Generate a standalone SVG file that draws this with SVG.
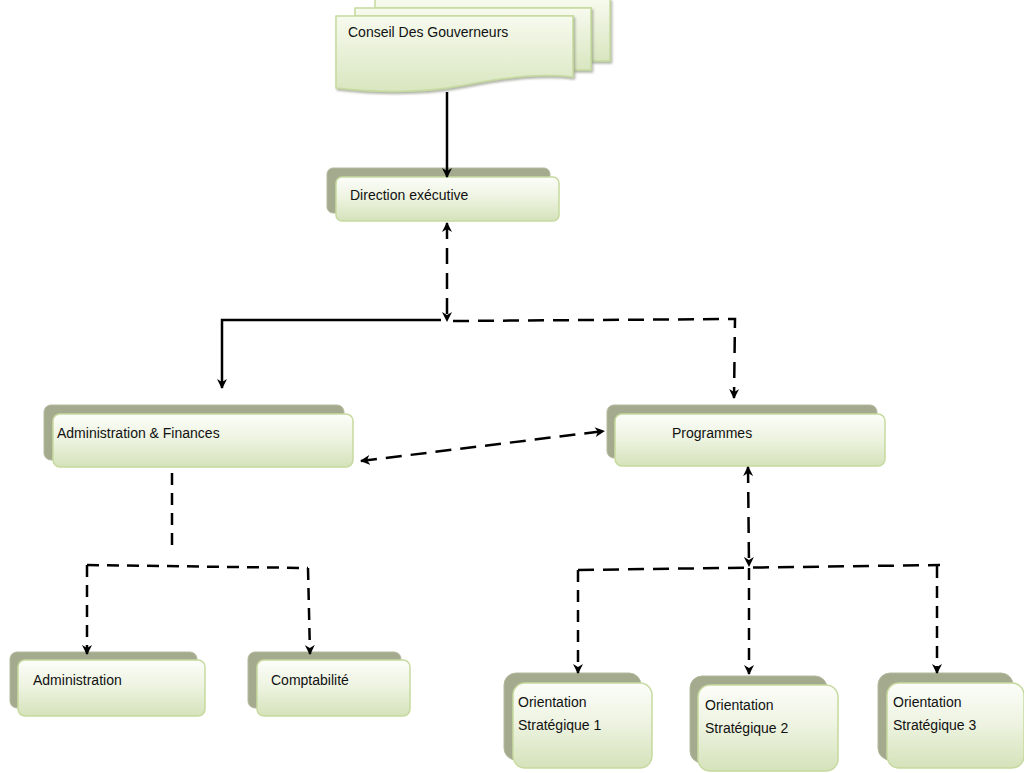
<svg xmlns="http://www.w3.org/2000/svg" width="1024" height="773" viewBox="0 0 1024 773">
<defs>
  <linearGradient id="gf" x1="0" y1="0" x2="0" y2="1">
    <stop offset="0" stop-color="#fcfdf9"/>
    <stop offset="0.45" stop-color="#eef4e2"/>
    <stop offset="1" stop-color="#d5e2ba"/>
  </linearGradient>
  <linearGradient id="gd" x1="0" y1="0" x2="0" y2="1">
    <stop offset="0" stop-color="#f7faee"/>
    <stop offset="1" stop-color="#d9e6c0"/>
  </linearGradient>
  <filter id="sh" x="-5%" y="-5%" width="115%" height="125%">
    <feDropShadow dx="1.5" dy="2" stdDeviation="1.2" flood-color="#7f8570" flood-opacity="0.6"/>
  </filter>
  <marker id="ah" viewBox="0 0 10 10" refX="9" refY="5" markerWidth="4" markerHeight="4" orient="auto-start-reverse" markerUnits="strokeWidth">
    <path d="M0,0 L10,5 L0,10 L3,5 z" fill="#000"/>
  </marker>
</defs>
<style>
  .back{fill:#a4aa8d;stroke:#b4b99f;stroke-width:1}
  .front{fill:url(#gf);stroke:#c6da9f;stroke-width:1.5}
  .doc{fill:url(#gd);stroke:#c6da9f;stroke-width:1.5}
  .lbl{font-family:"Liberation Sans",Arial,sans-serif;font-size:14px;fill:#111}
  .solid{fill:none;stroke:#000;stroke-width:2.5}
  .dash{fill:none;stroke:#000;stroke-width:2.5;stroke-dasharray:16,9}
  .dash2{fill:none;stroke:#000;stroke-width:2.5;stroke-dasharray:12,8}
</style>

<g id="conseil">
  <path class="doc" filter="url(#sh)" d="M375,-1 H610 V61 H591 V8 H375 Z"/>
  <path class="doc" filter="url(#sh)" d="M355,8 H591 V70 H573 V16 H355 Z"/>
  <path class="doc" filter="url(#sh)" d="M336,16 H573 V77 C540,73 500,78 465,85 C425,93 380,93 336,88 Z"/>
  <text class="lbl" x="348" y="37">Conseil Des Gouverneurs</text>
</g>

<g id="direction">
  <rect class="back" x="327" y="168" width="223" height="45" rx="6"/>
  <rect class="front" x="336" y="177" width="223" height="44" rx="6"/>
  <text class="lbl" x="350" y="200">Direction exécutive</text>
</g>

<g id="adminfin">
  <rect class="back" x="44" y="405" width="300" height="55" rx="7"/>
  <rect class="front" x="53" y="414" width="300" height="53" rx="7"/>
  <text class="lbl" x="57" y="438">Administration &amp; Finances</text>
</g>

<g id="programmes">
  <rect class="back" x="607" y="405" width="270" height="53" rx="7"/>
  <rect class="front" x="615" y="414" width="270" height="52" rx="7"/>
  <text class="lbl" x="672" y="438">Programmes</text>
</g>

<g id="administration">
  <rect class="back" x="10" y="652" width="187" height="56" rx="7"/>
  <rect class="front" x="18" y="660" width="187" height="56" rx="7"/>
  <text class="lbl" x="33" y="685">Administration</text>
</g>

<g id="comptabilite">
  <rect class="back" x="248" y="652" width="153" height="56" rx="7"/>
  <rect class="front" x="257" y="660" width="153" height="56" rx="7"/>
  <text class="lbl" x="271" y="685">Comptabilité</text>
</g>

<g id="os1">
  <rect class="back" x="504" y="673" width="137" height="87" rx="12"/>
  <rect class="front" x="513" y="683" width="139" height="85" rx="12"/>
  <text class="lbl" x="518" y="707">Orientation</text>
  <text class="lbl" x="518" y="730">Stratégique 1</text>
</g>

<g id="os2">
  <rect class="back" x="690" y="676" width="137" height="87" rx="12"/>
  <rect class="front" x="698" y="685" width="140" height="86" rx="12"/>
  <text class="lbl" x="705" y="710">Orientation</text>
  <text class="lbl" x="705" y="733">Stratégique 2</text>
</g>

<g id="os3">
  <rect class="back" x="878" y="673" width="135" height="87" rx="12"/>
  <rect class="front" x="887" y="683" width="137" height="85" rx="12"/>
  <text class="lbl" x="893" y="707">Orientation</text>
  <text class="lbl" x="893" y="730">Stratégique 3</text>
</g>

<g id="connectors">
  <path class="solid" marker-end="url(#ah)" d="M447,92 V177"/>
  <path class="dash" marker-start="url(#ah)" marker-end="url(#ah)" d="M447,223 V321"/>
  <path class="solid" marker-end="url(#ah)" d="M441,320 H222 V388"/>
  <path class="dash" marker-end="url(#ah)" d="M453,321 L735,319 L734,398"/>
  <path class="dash" marker-start="url(#ah)" marker-end="url(#ah)" d="M361,461 L604,431"/>
  <path class="dash2" d="M172,473 V546"/>
  <path class="dash2" d="M87,565 L308,568"/>
  <path class="dash2" marker-end="url(#ah)" d="M87,565 V654"/>
  <path class="dash2" marker-end="url(#ah)" d="M308,568 L310,654"/>
  <path class="dash" marker-start="url(#ah)" marker-end="url(#ah)" d="M748,467 L749,566"/>
  <path class="dash" d="M578,570 L940,565"/>
  <path class="dash2" marker-end="url(#ah)" d="M578,570 V673"/>
  <path class="dash2" marker-end="url(#ah)" d="M749,568 V674"/>
  <path class="dash2" marker-end="url(#ah)" d="M937,566 V673"/>
</g>
</svg>
